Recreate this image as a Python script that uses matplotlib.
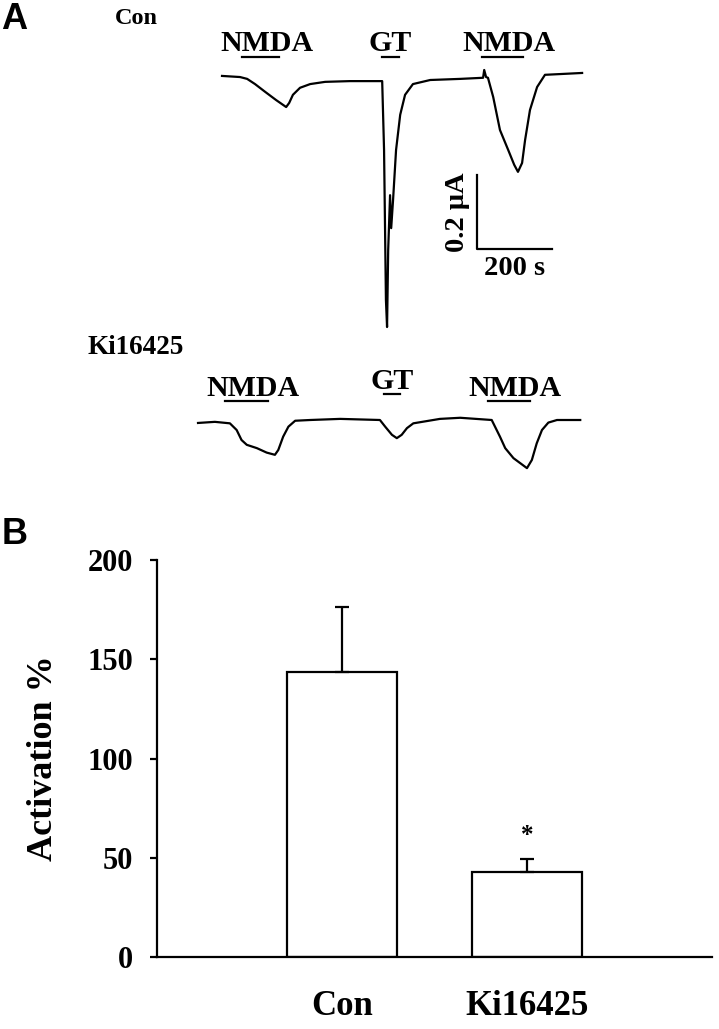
import matplotlib.pyplot as plt

plt.rcParams["font.family"] = "Liberation Serif"
plt.rcParams["font.weight"] = "bold"

# panel A: current traces (time in s, current in uA)
con_t = [0, 48, 67, 88, 115, 144, 171, 179, 189, 208, 235, 275, 341, 427, 432,
         437, 440, 443, 448, 451, 456, 464, 475, 488, 509, 555, 635, 696, 699,
         704, 709, 723, 741, 763, 779, 789, 800, 808, 821, 840, 861, 901, 960]
con_i = [0, -0.003, -0.008, -0.022, -0.043, -0.065, -0.084, -0.073, -0.051,
         -0.032, -0.022, -0.016, -0.014, -0.014, -0.200, -0.605, -0.678, -0.470,
         -0.322, -0.411, -0.335, -0.200, -0.105, -0.051, -0.022, -0.011, -0.008,
         -0.005, 0.016, -0.003, -0.005, -0.057, -0.146, -0.200, -0.240, -0.259,
         -0.235, -0.173, -0.092, -0.030, 0.003, 0.005, 0.008]

ki_t = [-64, -19, 21, 39, 52, 66, 93, 119, 141, 150, 163, 177, 195, 235, 315,
        421, 435, 453, 466, 479, 493, 510, 581, 635, 719, 741, 755, 777, 813,
        826, 839, 853, 870, 893, 955]
ki_i = [0, 0.003, -0.001, -0.019, -0.046, -0.059, -0.068, -0.080, -0.086,
        -0.073, -0.037, -0.010, 0.006, 0.008, 0.011, 0.008, -0.010, -0.032,
        -0.041, -0.032, -0.014, -0.001, 0.011, 0.014, 0.008, -0.037, -0.068,
        -0.095, -0.122, -0.100, -0.055, -0.019, 0.001, 0.008, 0.008]
KI_OFFSET = -0.937

# drug application periods (s) and bar heights above the trace (uA)
stim_names = ["NMDA", "GT", "NMDA"]
con_start = [53, 427, 693]
con_end = [152, 472, 803]
con_bar = [0.051, 0.051, 0.051]
ki_start = [8, 432, 709]
ki_end = [123, 475, 821]
ki_bar = [0.059, 0.078, 0.059]

# panel B
groups = ["Con", "Ki16425"]
means = [143.6, 42.8]
sems = [32.7, 6.6]

W, H = 719, 1029
fig = plt.figure(figsize=(W / 100, H / 100), dpi=100)


def px_axes(x0, y0, x1, y1):
    return fig.add_axes([x0 / W, 1 - y1 / H, (x1 - x0) / W, (y1 - y0) / H])


# ---- A ----
axA = px_axes(150, 0, 650, 520)
axA.set_xlim(-192, 1141)
axA.set_ylim(-1.199, 0.205)
axA.axis("off")

axA.plot(con_t, con_i, color="black", lw=1.6)
axA.plot(ki_t, [v + KI_OFFSET for v in ki_i], color="black", lw=1.6)

for starts, ends, bars, base in [(con_start, con_end, con_bar, 0),
                                 (ki_start, ki_end, ki_bar, KI_OFFSET)]:
    for name, s, e, b in zip(stim_names, starts, ends, bars):
        axA.plot([s, e], [b + base] * 2, color="black", lw=1.6)
        shift = 17 if name == "NMDA" else 0
        axA.text((s + e) / 2 + shift, b + base + 0.015, name, ha="center",
                 va="baseline", fontsize=21.5)

# scale bar: 200 s, 0.2 uA
sx, sy = 680, -0.467
axA.plot([sx, sx, sx + 200], [sy + 0.2, sy, sy], color="black", lw=1.6)
axA.text(sx - 18, sy + 0.1, "0.2 \u03bcA", rotation=90, ha="right",
         va="center", fontsize=20.5)
axA.text(sx + 100, sy - 0.018, "200 s", ha="center", va="top", fontsize=20.5)

fig.text(1 / W, 1 - 2 / H, "A", family="Liberation Sans", fontsize=26,
         ha="left", va="top")
fig.text(136 / W, 1 - 19 / H, "Con", fontsize=17.5, ha="center", va="center")
fig.text(136 / W, 1 - 347 / H, "Ki16425", fontsize=19.5, ha="center",
         va="center")

# ---- B ----
axB = px_axes(157, 560, 712, 957)
x = [1, 2]
axB.bar(x, means, width=0.595, color="white", edgecolor="black", lw=1.6,
        yerr=[[0, 0], sems], capsize=5,
        error_kw=dict(elinewidth=1.6, capthick=1.6, ecolor="black"))
axB.text(x[1], means[1] + sems[1] + 12, "*", ha="center", va="center",
         fontsize=18)
axB.set_xlim(0, 3)
axB.set_ylim(0, 200)
axB.set_yticks([0, 50, 100, 150, 200])
axB.set_xticks(x, groups)
axB.tick_params(axis="y", length=5, width=1.6, pad=12, labelsize=22)
axB.tick_params(axis="x", length=0, pad=24, labelsize=25)
axB.spines["top"].set_visible(False)
axB.spines["right"].set_visible(False)
axB.spines["left"].set_linewidth(1.6)
axB.spines["bottom"].set_linewidth(1.6)
axB.set_ylabel("Activation %", fontsize=26, fontweight="bold")
axB.yaxis.set_label_coords(-0.175, 0.5)

fig.text(2 / W, 1 - 535 / H, "B", family="Liberation Sans", fontsize=26,
         ha="left", va="center")

fig.savefig("out.png", dpi=100, facecolor="white")
